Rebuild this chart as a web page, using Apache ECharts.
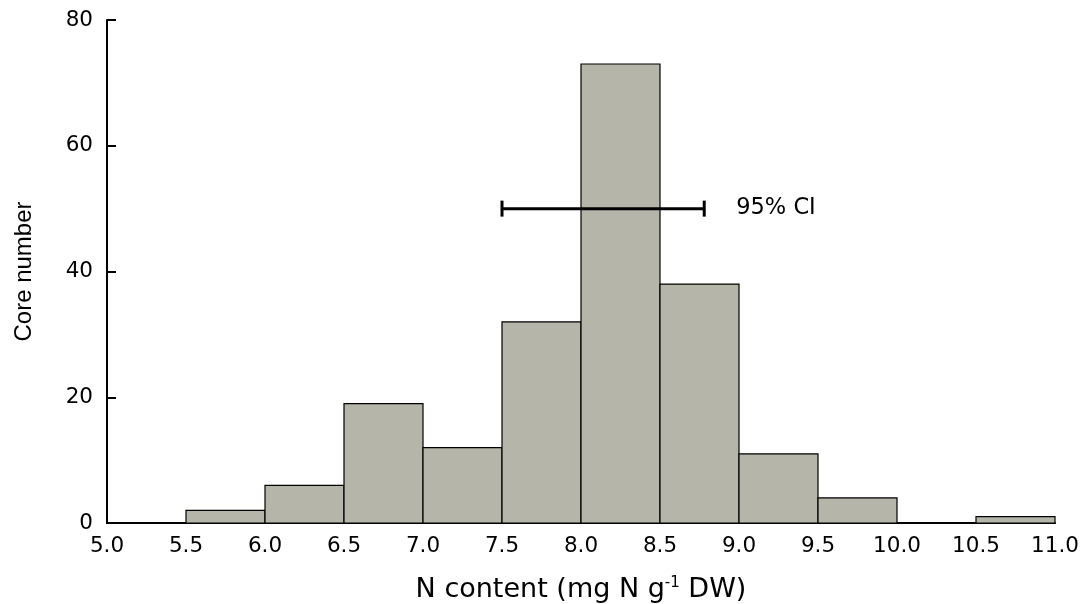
<!DOCTYPE html>
<html>
<head>
<meta charset="utf-8">
<script src="https://cdn.jsdelivr.net/npm/echarts@6/dist/echarts.min.js"></script>
<style>
html,body{margin:0;padding:0;background:#fff;}
#chart{width:1081px;height:604px;}
</style>
</head>
<body>
<div id="chart"></div>
<script>
// Histogram bins (mg N g-1 DW) and counts
const binStarts = [5.5, 6.0, 6.5, 7.0, 7.5, 8.0, 8.5, 9.0, 9.5, 10.5];
const binEnds   = [6.0, 6.5, 7.0, 7.5, 8.0, 8.5, 9.0, 9.5, 10.0, 11.0];
const counts    = [2, 6, 19, 12, 32, 73, 38, 11, 4, 1];
// 95% confidence interval
const ciLow = 7.5;
const ciHigh = 8.78;
const ciY = 50;
const ciLabel = '95% CI';
// Axis ticks
const xTicks = ['5.0','5.5','6.0','6.5','7.0','7.5','8.0','8.5','9.0','9.5','10.0','10.5','11.0'];
const yTicks = [0, 20, 40, 60, 80];

const WIDE = '"DejaVu Sans", Verdana, sans-serif';
const ARIAL = '"Liberation Sans", Arial, sans-serif';
const histData = binStarts.map((s, i) => [s, binEnds[i], counts[i]]);

const chart = echarts.init(document.getElementById('chart'));
chart.setOption({
  animation: false,
  backgroundColor: '#ffffff',
  grid: { left: 107, right: 26, top: 20, bottom: 81, containLabel: false, outerBoundsMode: 'none' },
  xAxis: {
    type: 'value',
    min: 5, max: 11, interval: 0.5,
    name: 'N content (mg N g{sup|-1} DW)',
    nameLocation: 'middle',
    nameGap: 53,
    nameTextStyle: {
      fontFamily: WIDE, fontSize: 27, color: '#000',
      rich: { sup: { fontFamily: WIDE, fontSize: 15, color: '#000', verticalAlign: 'top', padding: [0, 0, 13, 0] } }
    },
    axisLine: { show: true, lineStyle: { color: '#000', width: 2 } },
    axisTick: { show: false },
    splitLine: { show: false },
    axisLabel: {
      fontFamily: WIDE, fontSize: 21.5, color: '#000', margin: 12,
      formatter: function (v) { const s = v.toFixed(1); return xTicks.indexOf(s) >= 0 ? s : ''; }
    }
  },
  yAxis: {
    type: 'value',
    min: yTicks[0], max: yTicks[yTicks.length - 1], interval: 20,
    name: 'Core number',
    nameLocation: 'middle',
    nameGap: 71,
    nameTextStyle: { fontFamily: ARIAL, fontSize: 24, color: '#000' },
    axisLine: { show: true, lineStyle: { color: '#000', width: 2 } },
    axisTick: { show: true, inside: true, length: 9, lineStyle: { color: '#000', width: 2 } },
    splitLine: { show: false },
    axisLabel: { fontFamily: WIDE, fontSize: 21.5, color: '#000', margin: 14 }
  },
  series: [
    {
      type: 'custom',
      data: histData,
      encode: { x: [0, 1], y: 2 },
      renderItem: function (params, api) {
        const p0 = api.coord([api.value(0), api.value(2)]);
        const p1 = api.coord([api.value(1), 0]);
        return {
          type: 'rect',
          shape: { x: p0[0], y: p0[1], width: p1[0] - p0[0], height: p1[1] - p0[1] },
          style: { fill: '#b5b5a9', stroke: '#000', lineWidth: 1.2 }
        };
      },
      z: 2
    },
    {
      type: 'custom',
      data: [[ciLow, ciHigh, ciY]],
      encode: { x: [0, 1], y: 2 },
      renderItem: function (params, api) {
        const a = api.coord([api.value(0), api.value(2)]);
        const b = api.coord([api.value(1), api.value(2)]);
        const h = 8;
        const st = { stroke: '#000', lineWidth: 3 };
        return {
          type: 'group',
          children: [
            { type: 'line', shape: { x1: a[0], y1: a[1], x2: b[0], y2: b[1] }, style: st },
            { type: 'line', shape: { x1: a[0], y1: a[1] - h, x2: a[0], y2: a[1] + h }, style: st },
            { type: 'line', shape: { x1: b[0], y1: b[1] - h, x2: b[0], y2: b[1] + h }, style: st },
            { type: 'text', x: b[0] + 32, y: b[1], style: { text: ciLabel, fontFamily: WIDE, fontSize: 22.5, fill: '#000', verticalAlign: 'middle', align: 'left' } }
          ]
        };
      },
      z: 5
    }
  ]
});
</script>
</body>
</html>
